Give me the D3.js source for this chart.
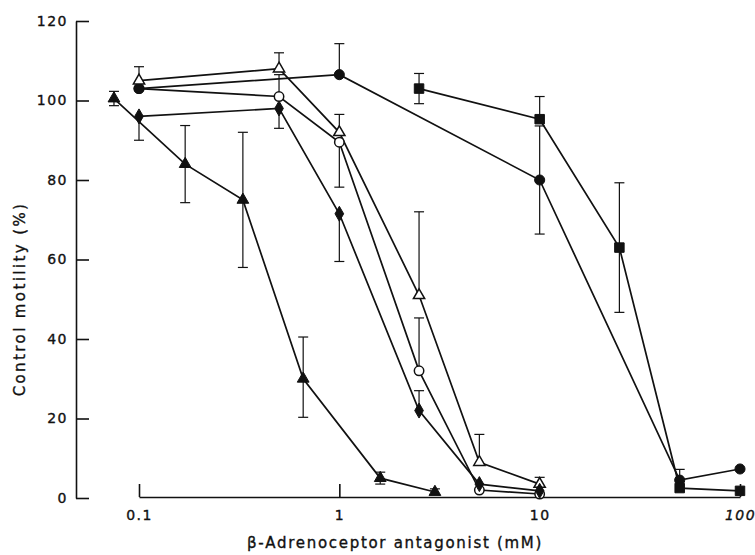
<!DOCTYPE html>
<html>
<head>
<meta charset="utf-8">
<script src="https://cdn.jsdelivr.net/npm/d3@7"></script>
<style>
  body { margin: 0; background: #fff; }
  text { font-family: "DejaVu Sans", Verdana, sans-serif; fill: #111; stroke: #111; stroke-width: 0.35px; }
</style>
</head>
<body>
<script>
const width = 755
const height = 555

// tick labels
const xTicks = [0.1, 1, 10, 100]
const yTicks = [0, 20, 40, 60, 80, 100, 120]

// filled triangle
const triFilledX = [0.075, 0.17, 0.33, 0.66, 1.6, 3]
const triFilledY = [100.5, 84, 75, 30, 5, 1.5]
const triFilledUp = [1.8, 9.7, 17, 10.5, 1.5, 0.8]
const triFilledDown = [1.8, 9.7, 17, 9.7, 1.5, 0]

// open triangle
const triOpenX = [0.1, 0.5, 1, 2.5, 5, 10]
const triOpenY = [105, 108, 92, 51, 9, 3.5]
const triOpenUp = [3.5, 4, 4.5, 21, 7, 1.7]
const triOpenDown = [0, 0, 0, 0, 0, 0]

// open circle
const circOpenX = [0.1, 0.5, 1, 2.5, 5, 10]
const circOpenY = [103, 101, 89.5, 32, 2, 1]
const circOpenUp = [0, 5.5, 0, 13.3, 0, 0]
const circOpenDown = [0, 0, 11.3, 0, 0, 0]

// filled circle
const circFilledX = [0.1, 1, 10, 50, 100]
const circFilledY = [103, 106.5, 80, 4.5, 7.3]
const circFilledUp = [0, 7.8, 13.6, 2.7, 0]
const circFilledDown = [0, 0, 13.6, 0, 0]

// filled diamond
const diaX = [0.1, 0.5, 1, 2.5, 5, 10]
const diaY = [96, 98, 71.5, 22, 3.5, 1.8]
const diaUp = [0, 0, 0, 5, 0, 0]
const diaDown = [6, 5, 12, 0, 0, 0]

// filled square
const sqX = [2.5, 10, 25, 50, 100]
const sqY = [103, 95.3, 63, 2.5, 1.8]
const sqUp = [3.8, 5.7, 16.3, 0, 0]
const sqDown = [3.8, 0, 16.3, 0, 0]

function makeSeries(xs, ys, up, down, symbol, open, size) {
    return {
        symbol, open, size,
        points: xs.map((x, i) => ({ x, y: ys[i], up: up[i], down: down[i] }))
    }
}

// draw order matters for overlaps
const series = [
    makeSeries(circOpenX, circOpenY, circOpenUp, circOpenDown, d3.symbolCircle, true, 70),
    makeSeries(circFilledX, circFilledY, circFilledUp, circFilledDown, d3.symbolCircle, false, 80),
    makeSeries(triOpenX, triOpenY, triOpenUp, triOpenDown, d3.symbolTriangle, true, 55),
    makeSeries(diaX, diaY, diaUp, diaDown, d3.symbolDiamond, false, 65),
    makeSeries(triFilledX, triFilledY, triFilledUp, triFilledDown, d3.symbolTriangle, false, 60),
    makeSeries(sqX, sqY, sqUp, sqDown, d3.symbolSquare, false, 90),
]

const svg = d3.select("body").append("svg")
    .attr("width", width)
    .attr("height", height)

const x = d3.scaleLog().domain([0.1, 100]).range([139, 740])
const y = d3.scaleLinear().domain([0, 120]).range([498, 21])

const font = "DejaVu Sans, Verdana, sans-serif"

// y axis, ticks pointing inward
const yAxis = svg.append("g")
    .attr("transform", "translate(76,0)")
    .call(d3.axisLeft(y).tickValues(yTicks).tickSize(-13).tickSizeOuter(0).tickPadding(8))
yAxis.selectAll("path, line").attr("stroke", "#111").attr("stroke-width", 1.6)
yAxis.selectAll("text").attr("font-size", 14).attr("font-family", font).attr("letter-spacing", 1.5)

// x axis, ticks pointing up
const xAxis = svg.append("g")
    .attr("transform", "translate(0,497)")
    .call(d3.axisBottom(x).tickValues(xTicks).tickFormat(d => String(d)).tickSize(-13).tickSizeOuter(0).tickPadding(13))
xAxis.selectAll("path, line").attr("stroke", "#111").attr("stroke-width", 1.6)
xAxis.selectAll("text").attr("font-size", 14).attr("font-family", font).attr("letter-spacing", 1.5)
    .attr("font-style", d => d === 100 ? "italic" : "normal")

// axis titles
svg.append("text")
    .attr("transform", "translate(25,299) rotate(-90)")
    .attr("text-anchor", "middle")
    .attr("font-size", 15)
    .attr("letter-spacing", 2.4)
    .text("Control motility (%)")

svg.append("text")
    .attr("x", 395)
    .attr("y", 548)
    .attr("text-anchor", "middle")
    .attr("font-size", 15)
    .attr("letter-spacing", 1.7)
    .text("β-Adrenoceptor antagonist (mM)")

const line = d3.line().x(d => x(d.x)).y(d => y(d.y))

// lines
svg.append("g")
    .selectAll("path")
    .data(series)
    .enter()
    .append("path")
    .attr("d", s => line(s.points))
    .attr("fill", "none")
    .attr("stroke", "#111")
    .attr("stroke-width", 1.7)

// error bars
const capW = 5
const errs = []
series.forEach(s => s.points.forEach(p => {
    if (p.up > 0) errs.push({ x: p.x, y0: p.y, y1: p.y + p.up })
    if (p.down > 0) errs.push({ x: p.x, y0: p.y, y1: p.y - p.down })
}))
const eg = svg.append("g").attr("stroke", "#111").attr("stroke-width", 1.2)
eg.selectAll("line.stem")
    .data(errs)
    .enter()
    .append("line")
    .attr("x1", d => x(d.x)).attr("x2", d => x(d.x))
    .attr("y1", d => y(d.y0)).attr("y2", d => y(d.y1))
eg.selectAll("line.cap")
    .data(errs)
    .enter()
    .append("line")
    .attr("x1", d => x(d.x) - capW).attr("x2", d => x(d.x) + capW)
    .attr("y1", d => y(d.y1)).attr("y2", d => y(d.y1))

// markers
series.forEach(s => {
    svg.append("g")
        .selectAll("path")
        .data(s.points)
        .enter()
        .append("path")
        .attr("transform", d => `translate(${x(d.x)},${y(d.y)})`)
        .attr("d", d3.symbol().type(s.symbol).size(s.size))
        .attr("fill", s.open ? "#fff" : "#111")
        .attr("stroke", "#111")
        .attr("stroke-width", s.open ? 1.5 : 1)
})
</script>
</body>
</html>
